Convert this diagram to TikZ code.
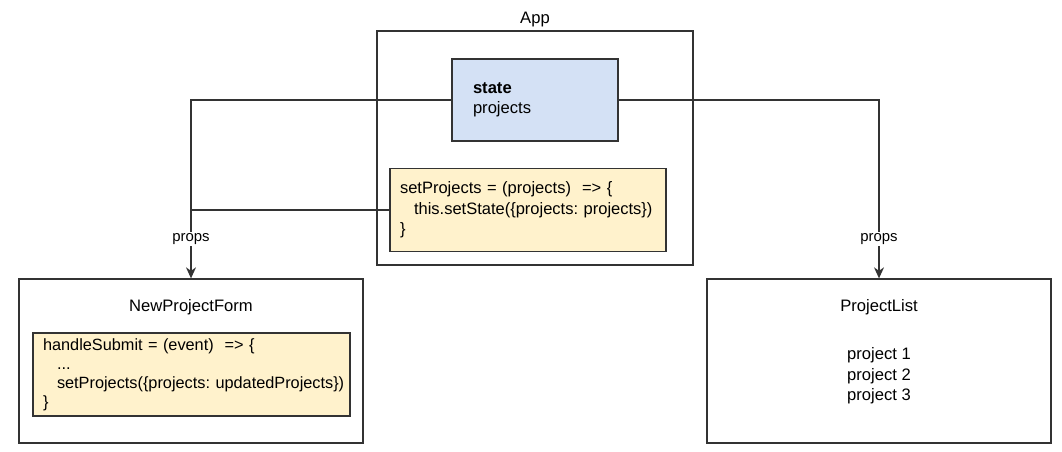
\documentclass[tikz,border=0pt]{standalone}
\usepackage{fontspec}
\setmainfont{Liberation Sans}
\usetikzlibrary{arrows.meta}
\frenchspacing
\definecolor{blueF}{HTML}{D4E1F5}
\definecolor{yellowF}{HTML}{FFF2CC}
\definecolor{strokeC}{HTML}{333333}
\tikzset{
  box/.style={draw=strokeC, line width=1.3pt, rectangle, inner sep=0pt},
  txt/.style={font=\fontsize{16.6}{20.5}\selectfont, inner sep=0pt},
  codebox/.style={box, fill=yellowF, align=left, inner xsep=10pt, inner ysep=0pt, font=\fontsize{16.5}{20.3}\selectfont},
  conn/.style={draw=strokeC, line width=1.3pt, -{Stealth[length=11pt,width=10pt,inset=3.5pt]}},
  plain/.style={draw=strokeC, line width=1.3pt},
  lbl/.style={fill=white, inner sep=1.5pt, font=\fontsize{14.9}{17}\selectfont}
}
\begin{document}
\begin{tikzpicture}[x=1pt,y=-1pt]
\useasboundingbox (0,0) rectangle (1062,452);
% App
\node[box, minimum width=316pt, minimum height=234pt] (app) at (535,148) {};
\node[txt] (applbl) at (535,20) {App};
\node[box, fill=blueF, align=left, text width=124pt, inner xsep=21pt, minimum height=82pt, font=\fontsize{16.6}{19.5}\selectfont] (state) at (535,100) {\raisebox{-2.5pt}{\textbf{state}}\\\raisebox{-2.5pt}{projects}};
\node[codebox, text width=256pt, minimum height=83pt] (setp) at (528,210) {\raisebox{-1pt}{setProjects = (projects)~~=> \{}\\\raisebox{-1pt}{\hspace*{14pt}this.setState(\{projects: projects\})}\\\raisebox{-1pt}{\}}};
% NewProjectForm
\node[box, minimum width=344pt, minimum height=164pt] (npf) at (191,361) {};
\node[txt] (npflbl) at (191,307) {NewProjectForm};
\node[codebox, text width=297pt, minimum height=83pt, font=\fontsize{16.3}{19}\selectfont] (hs) at (191.5,374.5) {\raisebox{-2.5pt}{handleSubmit = (event)~~=> \{}\\\raisebox{-2.5pt}{\hspace*{14pt}...}\\\raisebox{-2.5pt}{\hspace*{14pt}setProjects(\{projects: updatedProjects\})}\\\raisebox{-2.5pt}{\}}};
% ProjectList
\node[box, minimum width=344pt, minimum height=164pt] (pl) at (879,361) {};
\node[txt] (pllbl) at (879,307) {ProjectList};
\node[txt, align=center] (items) at (879,376) {project 1\\project 2\\project 3};
% connectors
\draw[conn] (state.west) -| (npf.north);
\draw[plain] (setp.west) -- (setp.west -| npf.north);
\draw[conn] (state.east) -| (pl.north);
\node[lbl] (p1) at (191,239) {props};
\node[lbl] (p2) at (879,239) {props};
\end{tikzpicture}
\end{document}
